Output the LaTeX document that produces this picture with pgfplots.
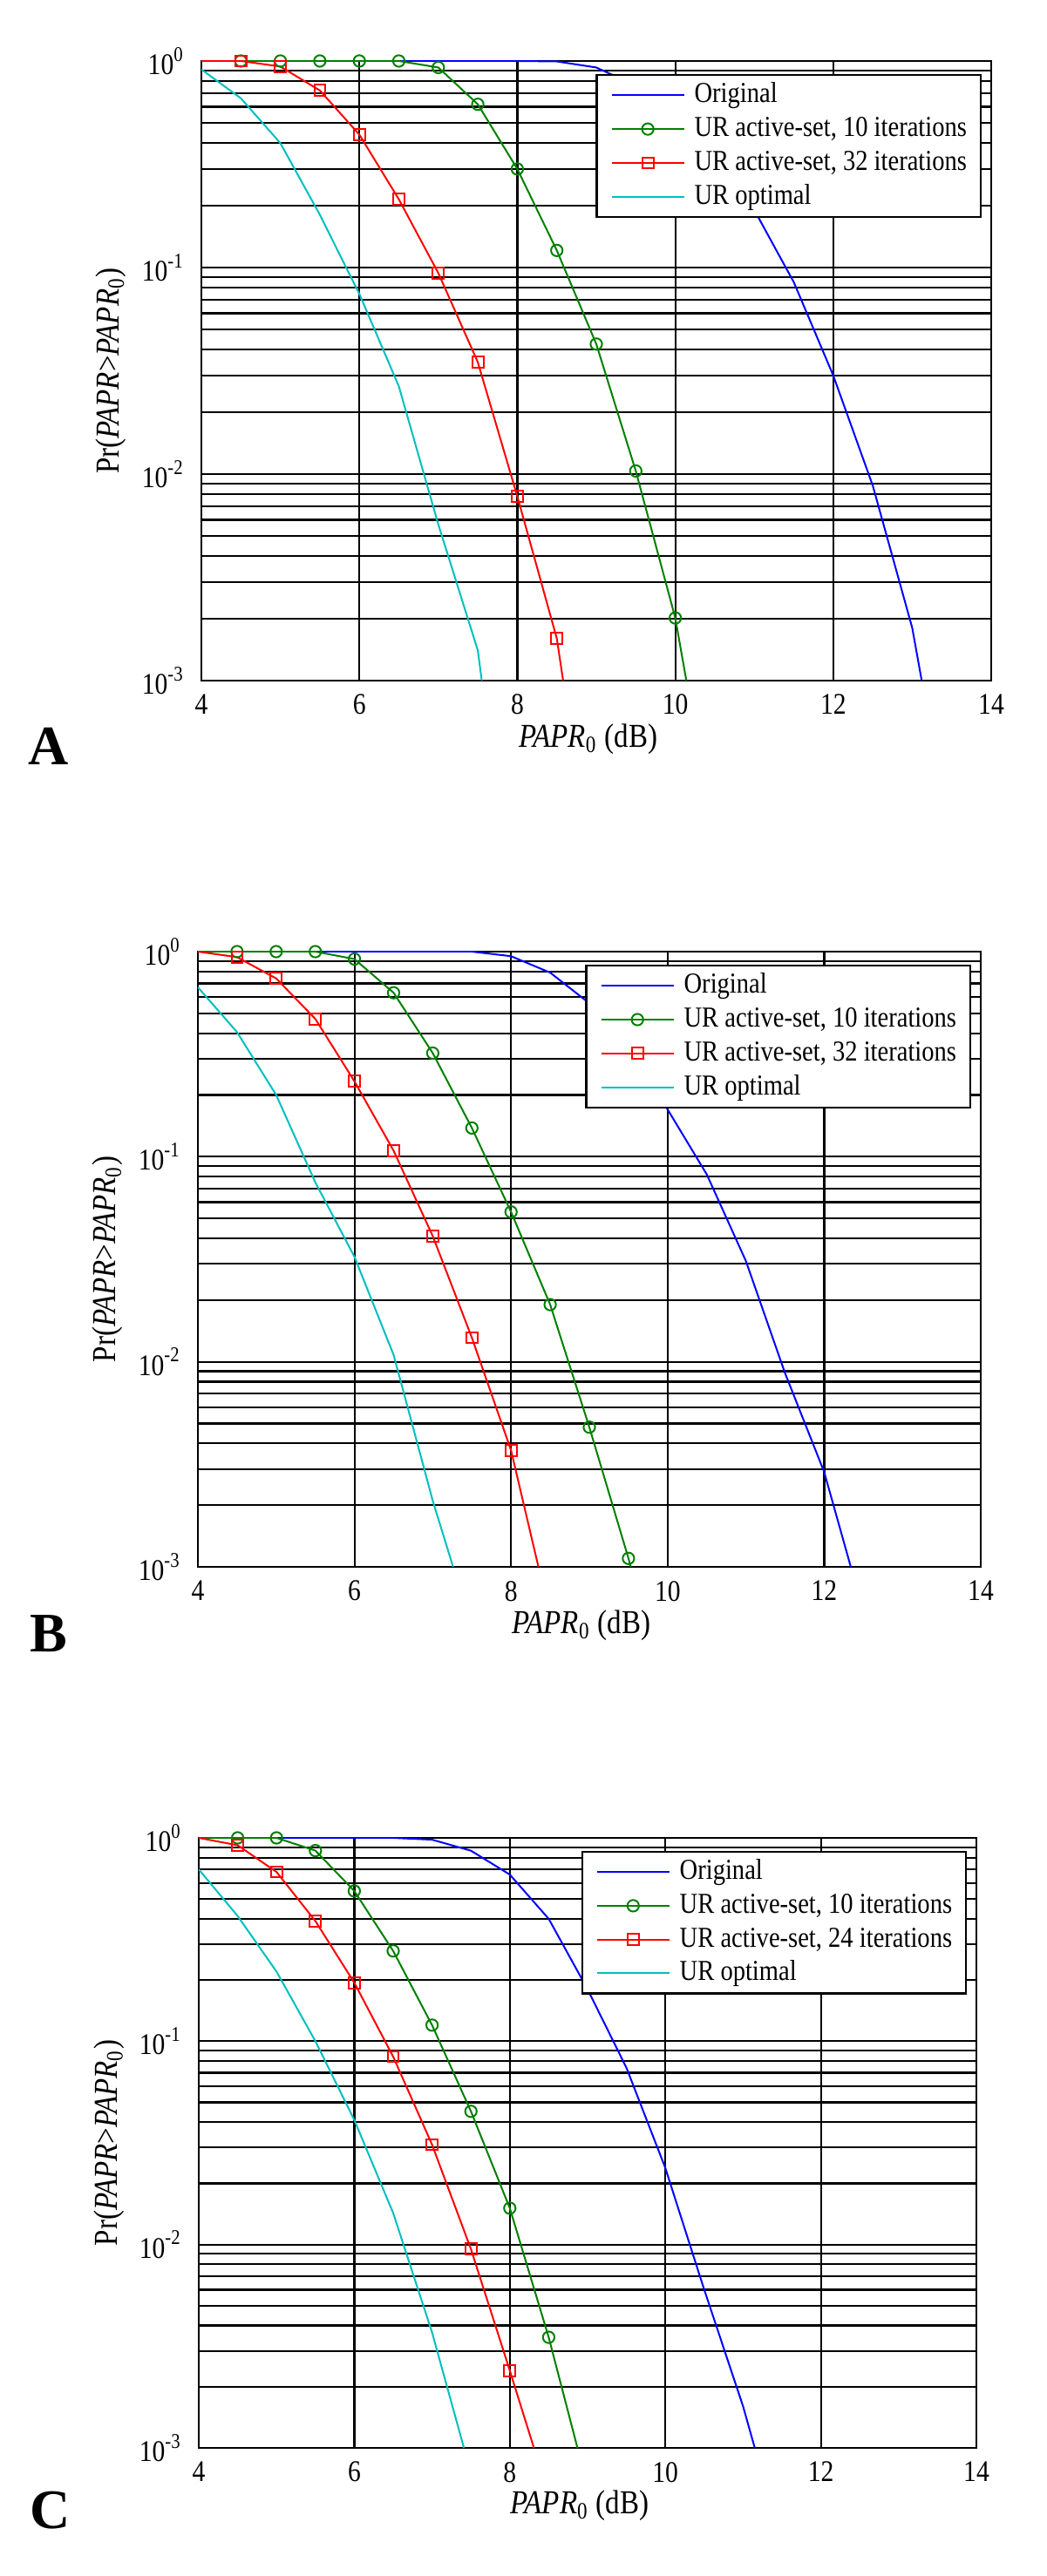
\documentclass[border=0pt]{standalone}
\usepackage{fontspec}
\setmainfont{Liberation Serif}[FakeStretch=0.86]
\newfontfamily\letterfont{Liberation Serif}
\usepackage{pgfplots}
\pgfplotsset{compat=1.18}
\definecolor{mblue}{rgb}{0,0,1}
\definecolor{mgreen}{rgb}{0,0.5,0}
\definecolor{mred}{rgb}{1,0,0}
\definecolor{mcyan}{rgb}{0,0.75,0.75}
\newcommand{\tf}{\fontsize{8.6}{10}\selectfont}
\newcommand{\labf}{\fontsize{9.6}{11}\selectfont}
\newcommand{\lf}{\fontsize{8.3}{9.5}\selectfont}

\pgfplotstableread{
x y
4 1
8.0 1
8.5 0.995
9 0.93
9.5 0.76
10 0.52
10.5 0.32
11 0.19
11.5 0.085
12 0.030
12.5 0.0088
13 0.0018
13.12 0.001
}\origA
\pgfplotstableread{
x y
4 1
4.5 1
5 1
5.5 1
6 1
6.5 1
7 0.93
7.5 0.617
8 0.30
8.5 0.121
9 0.0426
9.5 0.01035
10 0.00201
10.14 0.001
}\grnA
\pgfplotstableread{
x y
4 1
4.5 1
5 0.94
5.5 0.72
6 0.44
6.5 0.214
7 0.094
7.5 0.0348
8 0.0078
8.5 0.0016
8.58 0.001
}\redA
\pgfplotstableread{
x y
4 0.91
4.5 0.66
5 0.40
5.5 0.18
6 0.0745
6.5 0.0266
7 0.0057
7.5 0.0014
7.55 0.001
}\cyaA

\pgfplotstableread{
x y
4 1
7.5 1
8 0.95
8.5 0.79
9 0.56
9.5 0.33
10 0.17
10.5 0.082
11 0.031
11.5 0.0088
12 0.0029
12.34 0.001
}\origB
\pgfplotstableread{
x y
4 1
4.5 1
5 1
5.5 1
6 0.92
6.5 0.63
7 0.32
7.5 0.138
8 0.0538
8.5 0.019
9 0.0048
9.5 0.0011
9.53 0.001
}\grnB
\pgfplotstableread{
x y
4 1
4.5 0.94
5 0.74
5.5 0.47
6 0.233
6.5 0.107
7 0.041
7.5 0.0131
8 0.0037
8.35 0.001
}\redB
\pgfplotstableread{
x y
4 0.67
4.5 0.405
5 0.2
5.5 0.075
6 0.0325
6.5 0.0108
7 0.0021
7.26 0.001
}\cyaB

\pgfplotstableread{
x y
4 1
6.5 1
7 0.98
7.5 0.865
8 0.66
8.5 0.40
9 0.18
9.5 0.074
10 0.0238
10.5 0.006
11 0.0016
11.15 0.001
}\origC
\pgfplotstableread{
x y
4 1
4.5 1
5 1
5.5 0.866
6 0.548
6.5 0.278
7 0.12
7.5 0.0452
8 0.0151
8.5 0.0035
8.87 0.001
}\grnC
\pgfplotstableread{
x y
4 1
4.5 0.92
5 0.68
5.5 0.39
6 0.194
6.5 0.084
7 0.031
7.5 0.0095
8 0.0024
8.31 0.001
}\redC
\pgfplotstableread{
x y
4 0.70
4.5 0.413
5 0.22
5.5 0.1
6 0.041
6.5 0.0143
7 0.0037
7.41 0.001
}\cyaC

\tikzset{
  lineB/.style={mblue, line width=0.5pt, mark=none},
  lineG/.style={mgreen, line width=0.5pt, mark=o, mark size=1.65pt, mark options={solid, line width=0.5pt}},
  lineR/.style={mred, line width=0.5pt, mark=square, mark size=1.6pt, mark options={solid, line width=0.5pt}},
  lineC/.style={mcyan, line width=0.5pt, mark=none},
}
\pgfplotsset{
  legend image code/.code={
    \draw[#1, mark=none] (0pt,0pt) -- (20.75pt,0pt);
    \draw[#1, mark indices={2}] plot coordinates {(0pt,0pt) (10.4pt,0pt) (20.75pt,0pt)};
  },
  every axis/.append style={
    scale only axis,
    xmin=4, xmax=14, ymin=1e-3, ymax=1,
    xtick={4,6,8,10,12,14},
    ytick={0.001,0.01,0.1,1},
    yticklabels={10\textsuperscript{-3},10\textsuperscript{-2},10\textsuperscript{-1},10\textsuperscript{0}},
    xmajorgrids, ymajorgrids, yminorgrids,
    major grid style={black, line width=0.55pt},
    minor grid style={black, line width=0.55pt},
    major tick length=0pt, minor tick length=0pt,
    axis line style={line width=0.65pt},
    tick label style={font=\tf},
    yticklabel style={xshift=-1.3pt},
    xticklabel style={yshift=-0.5pt},
    xlabel={\textit{PAPR}\textsubscript{0} (dB)},
    ylabel={Pr(\textit{PAPR}>\textit{PAPR}\textsubscript{0})},
    label style={font=\labf},
    xlabel style={at={(axis description cs:0.49,-0.095)}, anchor=center},
    ylabel style={at={(axis description cs:-0.115,0.5)}, anchor=center},
    legend cell align=left,
    legend style={at={(0.988,0.979)}, anchor=north east, draw=black, line width=0.6pt,
      fill=white, font=\lf, inner xsep=4pt, inner ysep=1.2pt, row sep=0.5pt, column sep=2.75pt,
      nodes={inner xsep=0pt, inner ysep=0.5pt, text height=6.2pt, text depth=2pt}},
  },
}

\begin{document}
\begin{tikzpicture}
\path[use as bounding box] (0,0) rectangle (300pt,739pt);

% Panel A
\begin{semilogyaxis}[at={(57.75pt,543.75pt)}, anchor=south west, width=226.5pt, height=177.75pt, /pgf/number format/assume math mode=true]
\addplot[lineB] table {\origA};
\addplot[lineG, mark indices={2,3,4,5,6,7,8,9,10,11,12,13}] table {\grnA};
\addplot[lineR, mark indices={2,3,4,5,6,7,8,9,10}] table {\redA};
\addplot[lineC] table {\cyaA};
\legend{Original, {UR active-set, 10 iterations}, {UR active-set, 32 iterations}, UR optimal}
\end{semilogyaxis}
\node[anchor=base west, inner sep=0pt, font={\letterfont\fontsize{16}{18}\selectfont\bfseries}] at (8pt,519.5pt) {A};

% Panel B
\begin{semilogyaxis}[at={(56.75pt,289.5pt)}, anchor=south west, width=224.5pt, height=176.5pt, /pgf/number format/assume math mode=true]
\addplot[lineB] table {\origB};
\addplot[lineG, mark indices={2,3,4,5,6,7,8,9,10,11,12}] table {\grnB};
\addplot[lineR, mark indices={2,3,4,5,6,7,8,9}] table {\redB};
\addplot[lineC] table {\cyaB};
\legend{Original, {UR active-set, 10 iterations}, {UR active-set, 32 iterations}, UR optimal}
\end{semilogyaxis}
\node[anchor=base west, inner sep=0pt, font={\letterfont\fontsize{16}{18}\selectfont\bfseries}] at (8.5pt,265pt) {B};

% Panel C
\begin{semilogyaxis}[at={(57pt,36.75pt)}, anchor=south west, width=223pt, height=175pt, /pgf/number format/assume math mode=true]
\addplot[lineB] table {\origC};
\addplot[lineG, mark indices={2,3,4,5,6,7,8,9,10}] table {\grnC};
\addplot[lineR, mark indices={2,3,4,5,6,7,8,9}] table {\redC};
\addplot[lineC] table {\cyaC};
\legend{Original, {UR active-set, 10 iterations}, {UR active-set, 24 iterations}, UR optimal}
\end{semilogyaxis}
\node[anchor=base west, inner sep=0pt, font={\letterfont\fontsize{16}{18}\selectfont\bfseries}] at (8.5pt,13.5pt) {C};
\end{tikzpicture}
\end{document}
